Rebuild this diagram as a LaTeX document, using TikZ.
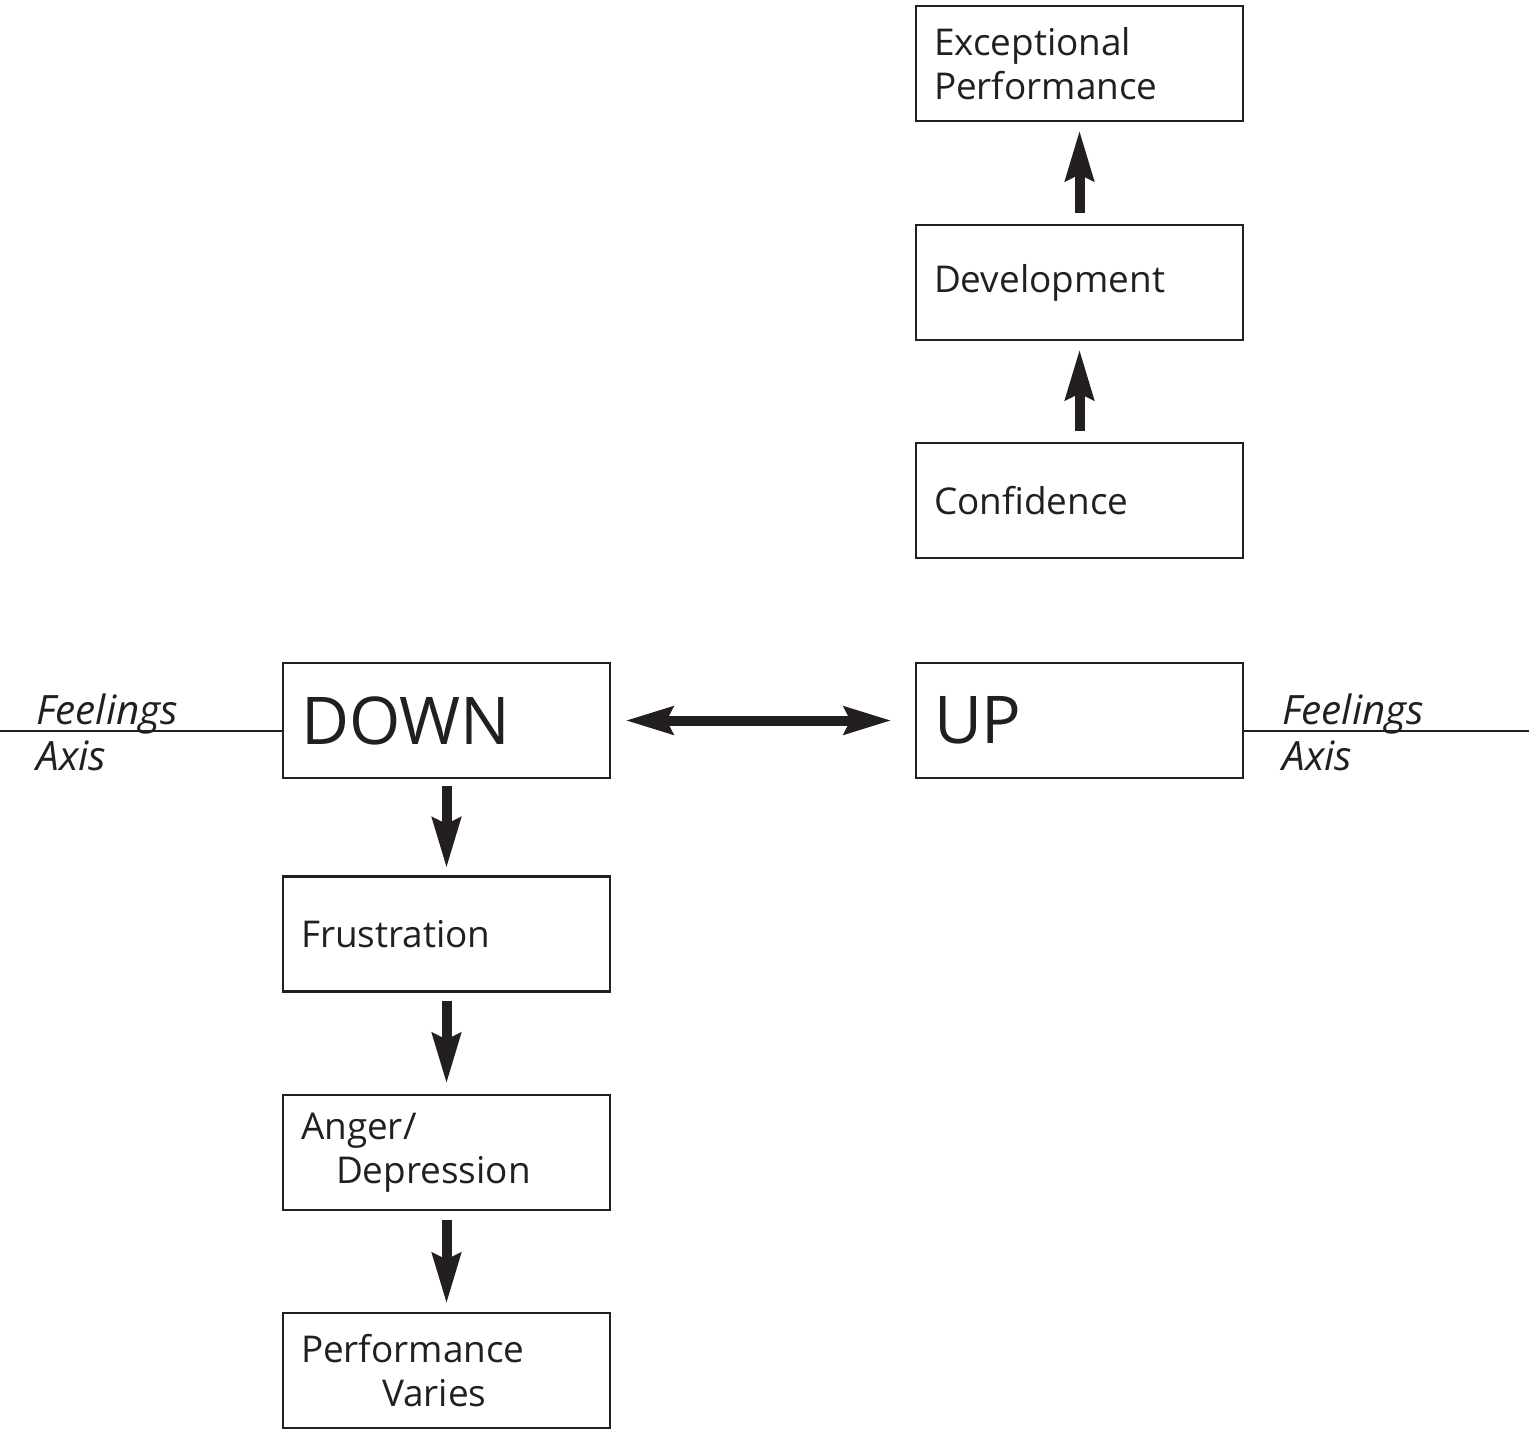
\documentclass[tikz,border=0pt]{standalone}
\usepackage{fontspec}
\setmainfont{Open Sans}
\usetikzlibrary{arrows.meta,positioning}
\definecolor{faInk}{HTML}{231F20}
\tikzset{
  fa/base/.style={draw=faInk, line width=1.6pt, text=faInk,
    minimum width=6.54cm, minimum height=2.3cm, inner xsep=0.36cm,
    text width=5.82cm, align=left, font=\fontsize{21}{25}\selectfont},
  fa/state/.style={fa/base, font=\fontsize{37.5}{41}\selectfont},
  fa/arrow/.style={-{Stealth[length=1cm,width=0.56cm,inset=0.12cm]},
    draw=faInk, fill=faInk, line width=0.2cm},
  fa/both/.style={{Stealth[length=0.94cm,width=0.54cm,inset=0.12cm]}-{Stealth[length=0.94cm,width=0.54cm,inset=0.12cm]},
    draw=faInk, fill=faInk, line width=0.2cm},
  fa/axis/.style={draw=faInk, line width=1.1pt},
  fa/axislabel/.style={font=\fontsize{23}{26}\selectfont\itshape, text=faInk,
    align=left, anchor=west, inner sep=0pt},
}

\begin{document}
\begin{tikzpicture}
\useasboundingbox (0,0) rectangle (30.58,28.62);

% ===== Right column: going up =====
\node[fa/base]  (except) at (21.59,27.35) {Exceptional\\Performance};
\node[fa/base]  (devel)  at (21.59,22.97) {Development};
\node[fa/base]  (conf)   at (21.59,18.61) {Confidence};
\node[fa/state] (up)     at (21.59,14.21) {UP};

\draw[fa/arrow, shorten <=0.22cm, shorten >=0.16cm] (conf.north)  -- (devel.south);
\draw[fa/arrow, shorten <=0.22cm, shorten >=0.16cm] (devel.north) -- (except.south);

% ===== Left column: going down =====
\node[fa/state] (down)  at (8.93,14.21) {DOWN};
\node[fa/base]  (frust) at (8.93,9.94)  {Frustration};
\node[fa/base]  (anger) at (8.93,5.57)  {Anger/\\\hspace*{0.7cm}Depression};
\node[fa/base]  (perf)  at (8.93,1.21)  {Performance\\\hspace*{1.62cm}Varies};

\draw[fa/arrow, shorten <=0.14cm, shorten >=0.14cm] (down.south)  -- (frust.north);
\draw[fa/arrow, shorten <=0.16cm, shorten >=0.2cm]  (frust.south) -- (anger.north);
\draw[fa/arrow, shorten <=0.18cm, shorten >=0.16cm] (anger.south) -- (perf.north);

% ===== Swing between the two states =====
\draw[fa/both, shorten <=0.28cm, shorten >=0.46cm] (down.east) -- (up.west);

% ===== Feelings axis =====
\coordinate (axisL) at (0,14.0);
\coordinate (axisR) at (30.58,14.0);
\draw[fa/axis] (axisL) -- (axisL -| down.west);
\draw[fa/axis] (axisR) -- (axisR -| up.east);
\node[fa/axislabel] (feelL) at (0.72,13.98)  {Feelings\\Axis};
\node[fa/axislabel] (feelR) at (25.64,13.98) {Feelings\\Axis};

\end{tikzpicture}
\end{document}
